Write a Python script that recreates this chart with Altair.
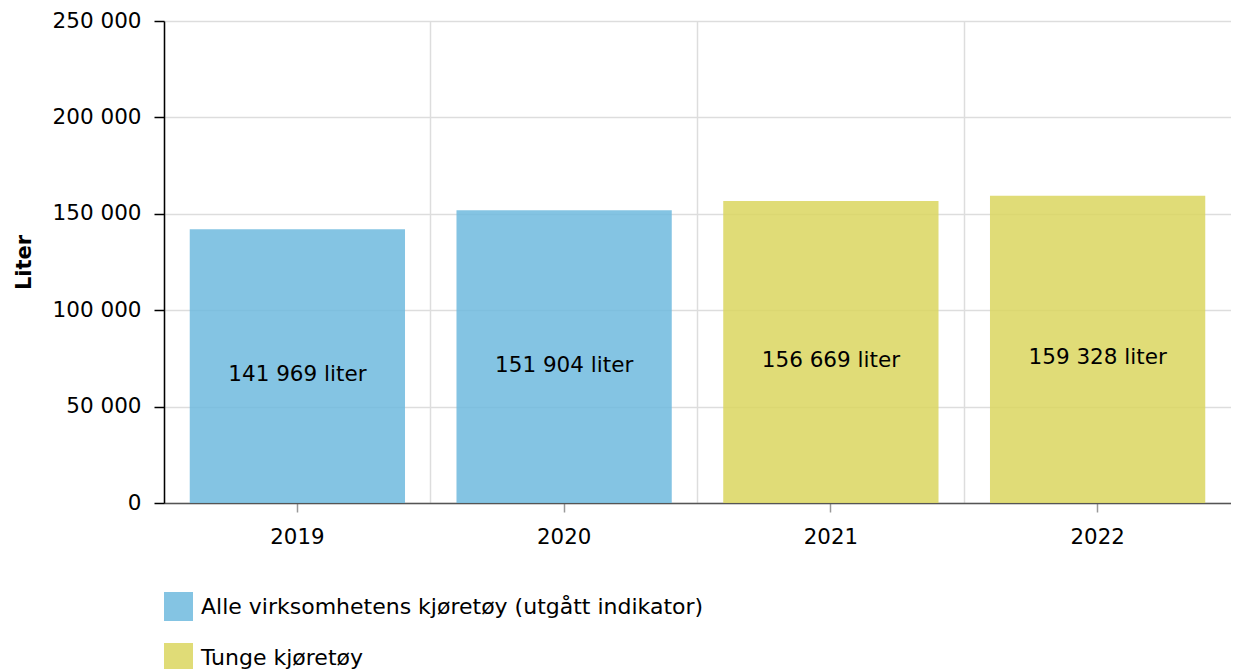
import altair as alt
import pandas as pd

years = ["2019", "2020", "2021", "2022"]
values = [141969, 151904, 156669, 159328]
series_names = [
    "Alle virksomhetens kjøretøy (utgått indikator)",
    "Alle virksomhetens kjøretøy (utgått indikator)",
    "Tunge kjøretøy",
    "Tunge kjøretøy",
]
legend_order = ["Alle virksomhetens kjøretøy (utgått indikator)", "Tunge kjøretøy"]
colors = ["#6fbade", "#dad65f"]
y_ticks = [0, 50000, 100000, 150000, 200000, 250000]

df = pd.DataFrame({"year": years, "value": values, "series": series_names})

FONT = "DejaVu Sans"
FS = 21

base = alt.Chart(df)

y_scale = alt.Scale(domain=[0, 250000], nice=False, zero=True)

x_main = alt.X(
    "year:N",
    title=None,
    scale=alt.Scale(paddingInner=0, paddingOuter=0),
    axis=alt.Axis(
        orient="bottom", labelAngle=0, grid=False, tickSize=9, tickColor="#999999",
        tickWidth=1.5, domainColor="#555555", domainWidth=1.5, labelPadding=14,
        labelFontSize=21.3, labelFont=FONT, labelColor="#000000",
    ),
)
x_grid = alt.X(
    "year:N",
    title=None,
    axis=alt.Axis(
        orient="bottom", grid=True, bandPosition=0, labels=False, ticks=False,
        domain=False, gridColor="#dddddd", gridWidth=1.5,
    ),
)

y_enc = alt.Y(
    "value:Q",
    scale=y_scale,
    axis=alt.Axis(
        title="Liter", values=y_ticks, format=",d",
        grid=True, gridColor="#dddddd", gridWidth=1.5, tickSize=10, tickColor="#000000",
        tickWidth=1.5, domainColor="#000000", domainWidth=1.5, labelFontSize=21.5,
        labelFont=FONT, labelColor="#000000", labelPadding=13, titleFontSize=FS,
        titleFont=FONT, titleFontWeight="bold", titleColor="#000000", titlePadding=18,
    ),
)

bars = base.mark_bar(opacity=0.85, width=alt.RelativeBandSize(0.807)).encode(
    x=x_main,
    y=y_enc,
    color=alt.Color(
        "series:N",
        scale=alt.Scale(domain=legend_order, range=colors),
        legend=alt.Legend(
            orient="bottom", direction="vertical", title=None, symbolType="square",
            symbolSize=841, symbolStrokeWidth=0, labelFontSize=22, labelFont=FONT,
            labelColor="#000000", labelOffset=8, rowPadding=22, offset=44,
            symbolOpacity=0.85, labelLimit=1000,
        ),
    ),
)

labels = base.transform_calculate(
    mid="datum.value / 2",
    label="format(datum.value, ',d') + ' liter'",
).mark_text(font=FONT, fontSize=21.5, color="#000000", baseline="middle", dy=9).encode(
    x=x_grid,
    y=alt.Y("mid:Q", scale=y_scale),
    text="label:N",
)

chart = (
    alt.layer(bars, labels)
    .resolve_axis(x="independent")
    .properties(width=1067, height=482, padding={"left": 5, "top": 2, "right": 0, "bottom": 5})
    .configure(locale={"number": {"decimal": ",", "thousands": " ", "grouping": [3], "currency": ["", " kr"]}})
    .configure_view(stroke=None)
)

chart.save("out.html", embed_options={"renderer": "svg", "actions": False})
